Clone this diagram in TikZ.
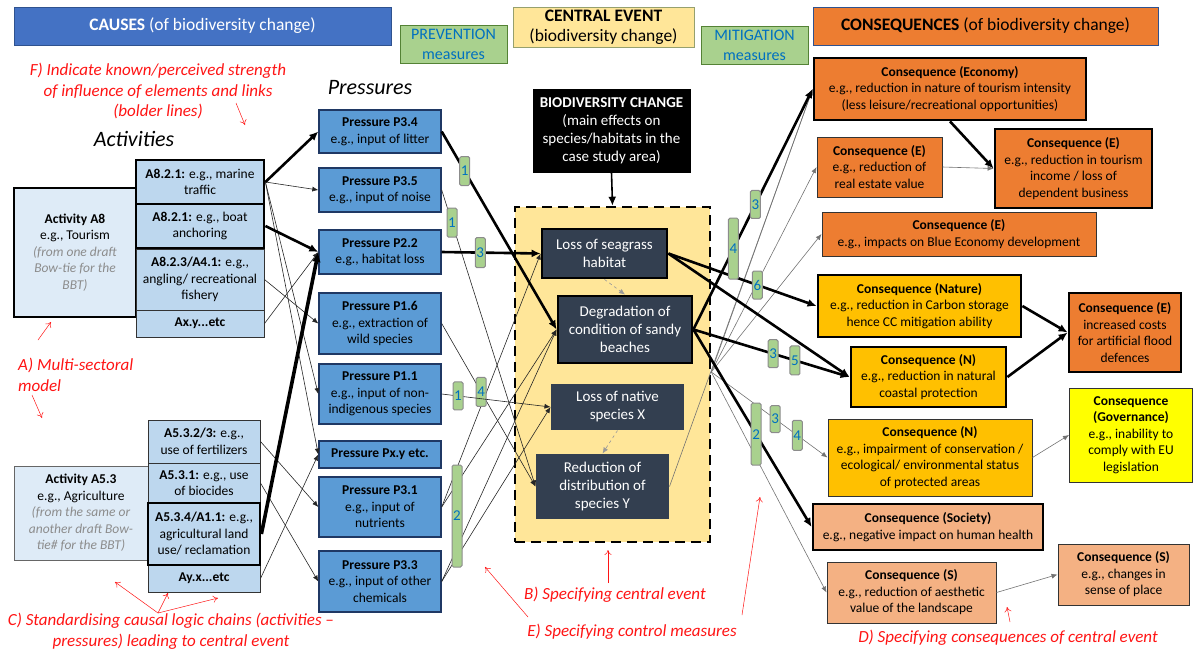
\documentclass[tikz,border=0pt]{standalone}
\usepackage{fontspec}
\setmainfont{Carlito}
\usetikzlibrary{arrows.meta,positioning}

\definecolor{causeblue}{RGB}{68,114,196}
\definecolor{causeline}{RGB}{47,82,143}
\definecolor{tagfill}{RGB}{169,209,142}
\definecolor{tagline}{RGB}{84,130,53}
\definecolor{tagtext}{RGB}{0,112,192}
\definecolor{cefill}{RGB}{255,230,153}
\definecolor{ceheadline}{RGB}{150,160,110}
\definecolor{consorange}{RGB}{237,125,49}
\definecolor{consgold}{RGB}{255,192,0}
\definecolor{consyellow}{RGB}{255,255,0}
\definecolor{conspeach}{RGB}{244,177,131}
\definecolor{actfill}{RGB}{189,215,238}
\definecolor{actpale}{RGB}{222,235,247}
\definecolor{pressfill}{RGB}{91,155,213}
\definecolor{pressline}{RGB}{31,56,100}
\definecolor{slate}{RGB}{51,63,80}
\definecolor{notered}{RGB}{255,20,20}

\newcommand{\boxfont}{\fontsize{13.5}{16.5}\selectfont}
\newcommand{\cefont}{\fontsize{15}{18}\selectfont}
\newcommand{\headfont}{\fontsize{17.5}{20}\selectfont}
\newcommand{\notefont}{\fontsize{17}{20.5}\selectfont\itshape}
\newcommand{\tagfont}{\fontsize{15}{15}\selectfont}
\newcommand{\colfont}{\fontsize{22}{24}\selectfont\itshape}
\newcommand{\faint}[1]{\textcolor{black!45}{\textit{#1}}}

\tikzset{
  head/.style={draw, line width=1pt, align=center, font=\headfont, inner sep=1pt},
  actbox/.style={draw=black!80, fill=actfill, line width=1pt, align=center, font=\boxfont, inner sep=1pt},
  heavy/.style={draw=black, line width=2.8pt},
  pressbox/.style={draw=pressline, fill=pressfill, line width=1.4pt, align=center, font=\boxfont, inner sep=1pt, minimum width=122},
  cebox/.style={draw=black, fill=slate, text=white, line width=1pt, align=center, font=\cefont, inner sep=1pt},
  consbox/.style={draw=black!80, line width=1pt, align=center, font=\boxfont, inner sep=1pt},
  mtag/.style={draw=black!45, fill=tagfill, line width=1pt, rounded corners=1.5pt, inner sep=0pt, minimum width=10pt, minimum height=#1, font=\tagfont, text=tagtext},
  mtag/.default=29,
  thinarr/.style={draw=black!85, line width=0.6pt, -{Latex[length=6pt,width=5pt]}},
  greyarr/.style={draw=black!55, line width=0.6pt, -{Latex[length=6pt,width=5pt]}},
  boldarr/.style={draw=black, line width=2.6pt, -{Latex[length=9pt,width=8pt]}},
  heavyarr/.style={draw=black, line width=3.6pt, -{Latex[length=10pt,width=9pt]}},
  note/.style={text=notered, font=\notefont, align=center, inner sep=0pt},
  noteline/.style={draw=notered, line width=0.5pt, -{To[length=5pt,width=7pt]}}
}

\begin{document}
\begin{tikzpicture}[x=1pt,y=-1pt]
\useasboundingbox (0,0) rectangle (1193,651);

%% header row
\node[head, fill=causeblue, draw=causeline, text=white, minimum width=377, minimum height=38] (causes) at (202.5,26) {\textbf{CAUSES} (of biodiversity change)};
\node[head, fill=tagfill, draw=tagline, text=tagtext, minimum width=107, minimum height=38, font=\fontsize{16}{20}\selectfont] (prev) at (453.5,44) {PREVENTION\\measures};
\node[head, fill=cefill, draw=ceheadline, minimum width=181, minimum height=40] (cehead) at (603.5,27) {\textbf{CENTRAL EVENT}\\(biodiversity change)};
\node[head, fill=tagfill, draw=tagline, text=tagtext, minimum width=107, minimum height=38, font=\fontsize{16}{20}\selectfont] (mitig) at (754.5,45) {MITIGATION\\measures};
\node[head, fill=consorange, draw=causeline, minimum width=345, minimum height=38] (conshead) at (985.5,26) {\textbf{CONSEQUENCES} (of biodiversity change)};

\node[font=\colfont] (actlabel) at (134,139) {Activities};
\node[font=\colfont] (presslabel) at (370,88) {Pressures};

%% activities
\node[actbox, fill=actpale, heavy, minimum width=122, minimum height=129] (actA8) at (75,252.5) {\textbf{Activity A8}\\e.g., Tourism\\\faint{(from one draft}\\\faint{Bow-tie for the}\\\faint{BBT)}};
\node[actbox, minimum width=128, minimum height=61] (a823) at (200,279.5) {\textbf{A8.2.3/A4.1:} e.g.,\\angling/ recreational\\fishery};
\node[actbox, minimum width=128, minimum height=27] (axy) at (200,323.5) {\textbf{Ax.y...etc}};
\node[actbox, heavy, minimum width=128, minimum height=44] (a821) at (200,182) {\textbf{A8.2.1:} e.g., marine\\traffic};
\node[actbox, heavy, minimum width=128, minimum height=44] (a821b) at (200,226) {\textbf{A8.2.1:} e.g., boat\\anchoring};

\node[actbox, fill=actpale, draw=black!60, minimum width=134, minimum height=94] (actA53) at (81,513) {\textbf{Activity A5.3}\\e.g., Agriculture\\\faint{(from the same or}\\\faint{another draft Bow-}\\\faint{tie\# for the BBT)}};
\node[actbox, minimum width=112, minimum height=43] (a532) at (204,441.5) {\textbf{A5.3.2/3:} e.g.,\\use of fertilizers};
\node[actbox, minimum width=112, minimum height=40] (a531) at (204,483) {\textbf{A5.3.1:} e.g., use\\of biocides};
\node[actbox, minimum width=112, minimum height=27] (ayx) at (204,578.5) {\textbf{Ay.x...etc}};
\node[actbox, heavy, minimum width=112, minimum height=62] (a534) at (204,534) {\textbf{A5.3.4/A1.1:} e.g.,\\agricultural land\\use/ reclamation};

%% pressures
\node[pressbox, minimum height=43] (p34) at (380,131.5) {\textbf{Pressure P3.4}\\e.g., input of litter};
\node[pressbox, minimum height=44] (p35) at (380,190) {\textbf{Pressure P3.5}\\e.g., input of noise};
\node[pressbox, minimum height=44] (p22) at (380,252) {\textbf{Pressure P2.2}\\e.g., habitat loss};
\node[pressbox, minimum height=61] (p16) at (380,323.5) {\textbf{Pressure P1.6}\\e.g., extraction of\\wild species};
\node[pressbox, minimum height=60] (p11) at (380,394) {\textbf{Pressure P1.1}\\e.g., input of non-\\indigenous species};
\node[pressbox, minimum height=27] (pxy) at (380,454.5) {\textbf{Pressure Px.y etc.}};
\node[pressbox, minimum height=60] (p31) at (380,507) {\textbf{Pressure P3.1}\\e.g., input of\\nutrients};
\node[pressbox, minimum height=61] (p33) at (380,581.5) {\textbf{Pressure P3.3}\\e.g., input of other\\chemicals};

%% central event
\node[draw=black, fill=cefill, line width=2.6pt, dash pattern=on 10pt off 6pt, minimum width=195, minimum height=335] (ce) at (612.5,374.5) {};
\node[cebox, fill=black, minimum width=157, minimum height=83] (bio) at (611.5,130.5) {\textbf{BIODIVERSITY CHANGE}\\(main effects on\\species/habitats in the\\case study area)};
\node[cebox, heavy, minimum width=125, minimum height=49] (seag) at (604.5,253.5) {Loss of seagrass\\habitat};
\node[cebox, heavy, minimum width=134, minimum height=67] (degr) at (625,329.5) {Degradation of\\condition of sandy\\beaches};
\node[cebox, draw=none, minimum width=133, minimum height=46] (natx) at (617.5,407) {Loss of native\\species X};
\node[cebox, draw=none, minimum width=133, minimum height=65] (redy) at (602.5,486.5) {Reduction of\\distribution of\\species Y};
\coordinate (hub) at (ce.east |- 0,372);

%% consequences
\node[consbox, heavy, fill=consorange, minimum width=272, minimum height=62] (cecon) at (950,89) {\textbf{Consequence (Economy)}\\e.g., reduction in nature of tourism intensity\\(less leisure/recreational opportunities)};
\node[consbox, fill=consorange, minimum width=125, minimum height=60] (cre) at (879.5,167) {\textbf{Consequence (E)}\\e.g., reduction of\\real estate value};
\node[consbox, heavy, fill=consorange, minimum width=157, minimum height=79] (cinc) at (1073.5,168.5) {\textbf{Consequence (E)}\\e.g., reduction in tourism\\income / loss of\\dependent business};
\node[consbox, fill=consorange, minimum width=274, minimum height=44] (cblue) at (959,234) {\textbf{Consequence (E)}\\e.g., impacts on Blue Economy development};
\node[consbox, heavy, fill=consgold, minimum width=203, minimum height=62] (cnat) at (919.5,306) {\textbf{Consequence (Nature)}\\e.g., reduction in Carbon storage\\hence CC mitigation ability};
\node[consbox, heavy, fill=consorange, minimum width=112, minimum height=79] (ccost) at (1125,332.5) {\textbf{Consequence (E)}\\increased costs\\for artificial flood\\defences};
\node[consbox, heavy, fill=consgold, minimum width=155, minimum height=60] (ccoast) at (928.5,377) {\textbf{Consequence (N)}\\e.g., reduction in natural\\coastal protection};
\node[consbox, fill=consyellow, minimum width=123, minimum height=94] (cgov) at (1131,435) {\textbf{Consequence}\\\textbf{(Governance)}\\e.g., inability to\\comply with EU\\legislation};
\node[consbox, fill=consgold, minimum width=204, minimum height=77] (cimp) at (930,457.5) {\textbf{Consequence (N)}\\e.g., impairment of conservation /\\ecological/ environmental status\\of protected areas};
\node[consbox, heavy, fill=conspeach, minimum width=230, minimum height=46] (csoc) at (928,527) {\textbf{Consequence (Society)}\\e.g., negative impact on human health};
\node[consbox, fill=conspeach, minimum width=169, minimum height=61] (caes) at (911.5,592.5) {\textbf{Consequence (S)}\\e.g., reduction of aesthetic\\value of the landscape};
\node[consbox, fill=conspeach, minimum width=131, minimum height=61] (cplace) at (1123.5,574.5) {\textbf{Consequence (S)}\\e.g., changes in\\sense of place};

%% activities -> pressures
\draw[boldarr] (a821.east) -- (p34.west);
\draw[thinarr] (a821.east) -- (p35.west);
\draw[thinarr] (a821.east) -- (p11.west);
\draw[thinarr] (a821.east) -- (pxy.west);
\draw[boldarr] (a821b.east) -- (p22.west);
\draw[thinarr] (a823.east) -- (p16.west);
\draw[thinarr] (axy.east) -- (p22.west);
\draw[thinarr] (a532.east) -- (p31.west);
\draw[thinarr] (a531.east) -- (p33.west);
\draw[heavyarr] (a534.east) -- (p22.west);
\draw[thinarr] (ayx.east) -- (pxy.west);

%% pressures -> central event
\draw[thinarr] (p31.east) -- (seag.west);
\draw[thinarr] (p31.east) -- (degr.west);
\draw[thinarr] (p33.east) -- (degr.west);
\draw[thinarr] (p33.east) -- (natx.west);
\draw[thinarr] (p35.east) -- node[mtag, pos=0.11] (tl2) {1} (redy.west);
\draw[thinarr] (p16.east) -- node[mtag, pos=0.42] (tl5) {4} (redy.west);
\draw[thinarr] (p11.east) -- node[mtag=28, pos=0.15] (tl4) {1} (natx.west);
\draw[boldarr] (p34.east) -- node[mtag, pos=0.2] (tl1) {1} (degr.west);
\draw[boldarr] (p22.east) -- node[mtag=30, pos=0.39] (tl3) {3} (seag.west);
\node[mtag=102] (tl6) at (457,516) {2};

\draw[boldarr, line width=1.6pt] (bio.south) -- (ce.north);
\draw[greyarr, dashed, draw=black!40] (seag.south) -- (degr.north);
\draw[greyarr, dashed, draw=black!40] (natx.south) -- (redy.north);

%% central event -> consequences
\draw[greyarr] (redy.east) -- (cecon.west);
\draw[greyarr] (hub) -- (cecon.west);
\draw[greyarr] (hub) -- (cre.west);
\draw[greyarr] (hub) -- (cblue.west);
\draw[greyarr] (hub) -- node[mtag=27, pos=0.55] (tr6) {3} node[mtag=30, pos=0.74] (tr7) {4} (cimp.west);
\draw[greyarr] (hub) -- (caes.west);
\draw[boldarr] (seag.east) -- (ccoast.west);
\draw[boldarr] (seag.east) -- node[mtag=28, pos=0.6] (tr3) {6} (cnat.west);
\draw[boldarr] (degr.east) -- node[mtag=61, pos=0.336] (tr2) {4} node[mtag=28, pos=0.52] (tr1) {3} (cecon.west);
\draw[boldarr] (degr.east) -- node[mtag=28, pos=0.51] (tr4) {3} node[mtag=29, pos=0.65] (tr5) {5} (ccoast.west);
\draw[boldarr] (degr.east) -- node[mtag=62, pos=0.53] (tr8) {2} (csoc.west);

%% consequences -> consequences
\draw[boldarr] (cecon.south) -- (cinc.west);
\draw[greyarr] (cre.east) -- (cinc.west);
\draw[boldarr] (cnat.east) -- (ccost.west);
\draw[boldarr] (ccoast.east) -- (ccost.west);
\draw[greyarr] (cimp.east) -- (cgov.west);
\draw[greyarr] (caes.east) -- (cplace.west);

%% notes
\node[note] (noteF) at (158,91) {F) Indicate known/perceived strength\\of influence of elements and links\\(bolder lines)};
\node[note, anchor=west, align=left] (noteA) at (18,375) {A) Multi-sectoral\\model};
\node[note] (noteC) at (171,631) {C) Standardising causal logic chains (activities –\\pressures) leading to central event};
\node[note] (noteB) at (615,595) {B) Specifying central event};
\node[note] (noteE) at (632,632) {E) Specifying control measures};
\node[note] (noteD) at (1008,638) {D) Specifying consequences of central event};

\coordinate (fa) at (236,103);  \coordinate (fb) at (245,125);
\coordinate (aa) at (38,340);   \coordinate (ab) at (51,322);
\coordinate (ac) at (32,395);   \coordinate (ad) at (42,418);
\coordinate (ca) at (158,613);
\coordinate (cb) at (115,582);  \coordinate (cc) at (168,593);  \coordinate (cd) at (218,598);
\coordinate (ba) at (608,583);  \coordinate (bb) at (608,550);
\coordinate (ea) at (528,617);  \coordinate (eb) at (485,567);
\coordinate (ec) at (742,615);  \coordinate (ed) at (760,497);
\coordinate (da) at (1010,622); \coordinate (db) at (1007,607);
\draw[noteline] (fa) -- (fb);
\draw[noteline] (aa) -- (ab);
\draw[noteline] (ac) -- (ad);
\draw[noteline] (ca) -- (cb);
\draw[noteline] (ca) -- (cc);
\draw[noteline] (ca) -- (cd);
\draw[noteline] (ba) -- (bb);
\draw[noteline] (ea) -- (eb);
\draw[noteline] (ec) -- (ed);
\draw[noteline] (da) -- (db);
\end{tikzpicture}
\end{document}
